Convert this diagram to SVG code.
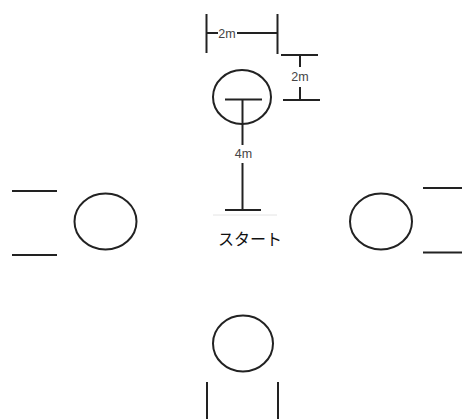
<svg xmlns="http://www.w3.org/2000/svg" width="462" height="419" viewBox="0 0 462 419">
  <style>
    .ln { stroke: #222; stroke-width: 2; fill: none; }
    .cone { stroke: #222; stroke-width: 2; fill: #fff; }
    .dim { font-family: "Liberation Sans", Arial, sans-serif; font-size: 12.5px; fill: #454545; text-anchor: middle; }
    .lbl { font-family: "Noto Sans CJK JP", "Noto Sans", sans-serif; font-size: 16px; fill: #111; text-anchor: middle; }
  </style>
  <rect width="462" height="419" fill="#fff"/>

  <!-- markers -->
  <g id="marker-top"><ellipse class="cone" cx="242" cy="97" rx="29" ry="27"/></g>
  <g id="marker-left"><ellipse class="cone" cx="105.5" cy="221.5" rx="31" ry="28"/></g>
  <g id="marker-right"><ellipse class="cone" cx="381" cy="221.5" rx="31" ry="28"/></g>
  <g id="marker-bottom"><ellipse class="cone" cx="243" cy="343.5" rx="30" ry="28"/></g>

  <!-- gates -->
  <g id="gate-left" class="ln">
    <line x1="12" y1="191" x2="57" y2="191"/>
    <line x1="12" y1="255" x2="57" y2="255"/>
  </g>
  <g id="gate-right" class="ln">
    <line x1="423" y1="188" x2="462" y2="188"/>
    <line x1="423" y1="252.5" x2="462" y2="252.5"/>
  </g>
  <g id="gate-bottom" class="ln">
    <line x1="207" y1="382" x2="207" y2="419"/>
    <line x1="278" y1="382" x2="278" y2="419"/>
  </g>

  <!-- dimension lines -->
  <g id="dimensions">
    <g class="ln">
      <!-- width 2m -->
      <line x1="206.5" y1="14" x2="206.5" y2="53"/>
      <line x1="277.5" y1="14" x2="277.5" y2="54"/>
      <line x1="207" y1="33" x2="218" y2="33"/>
      <line x1="237" y1="33" x2="277" y2="33"/>
      <!-- height 2m -->
      <line x1="281" y1="55" x2="318" y2="55"/>
      <line x1="300" y1="55" x2="300" y2="67"/>
      <line x1="300" y1="87" x2="300" y2="100"/>
      <line x1="283" y1="100" x2="320" y2="100"/>
      <!-- distance 4m -->
      <line x1="225" y1="99.5" x2="262" y2="99.5"/>
      <line x1="242.5" y1="99.5" x2="242.5" y2="145"/>
      <line x1="242.5" y1="163" x2="242.5" y2="210"/>
      <line x1="225" y1="210" x2="261" y2="210"/>
    </g>
    <line x1="213" y1="215" x2="277" y2="215" stroke="#e4e4e4" stroke-width="1"/>
    <text class="dim" x="227" y="37.5">2m</text>
    <text class="dim" x="300" y="81">2m</text>
    <text class="dim" x="243.5" y="158">4m</text>
  </g>

  <g id="start-label">
    <text class="lbl" x="250" y="245">スタート</text>
  </g>
</svg>
